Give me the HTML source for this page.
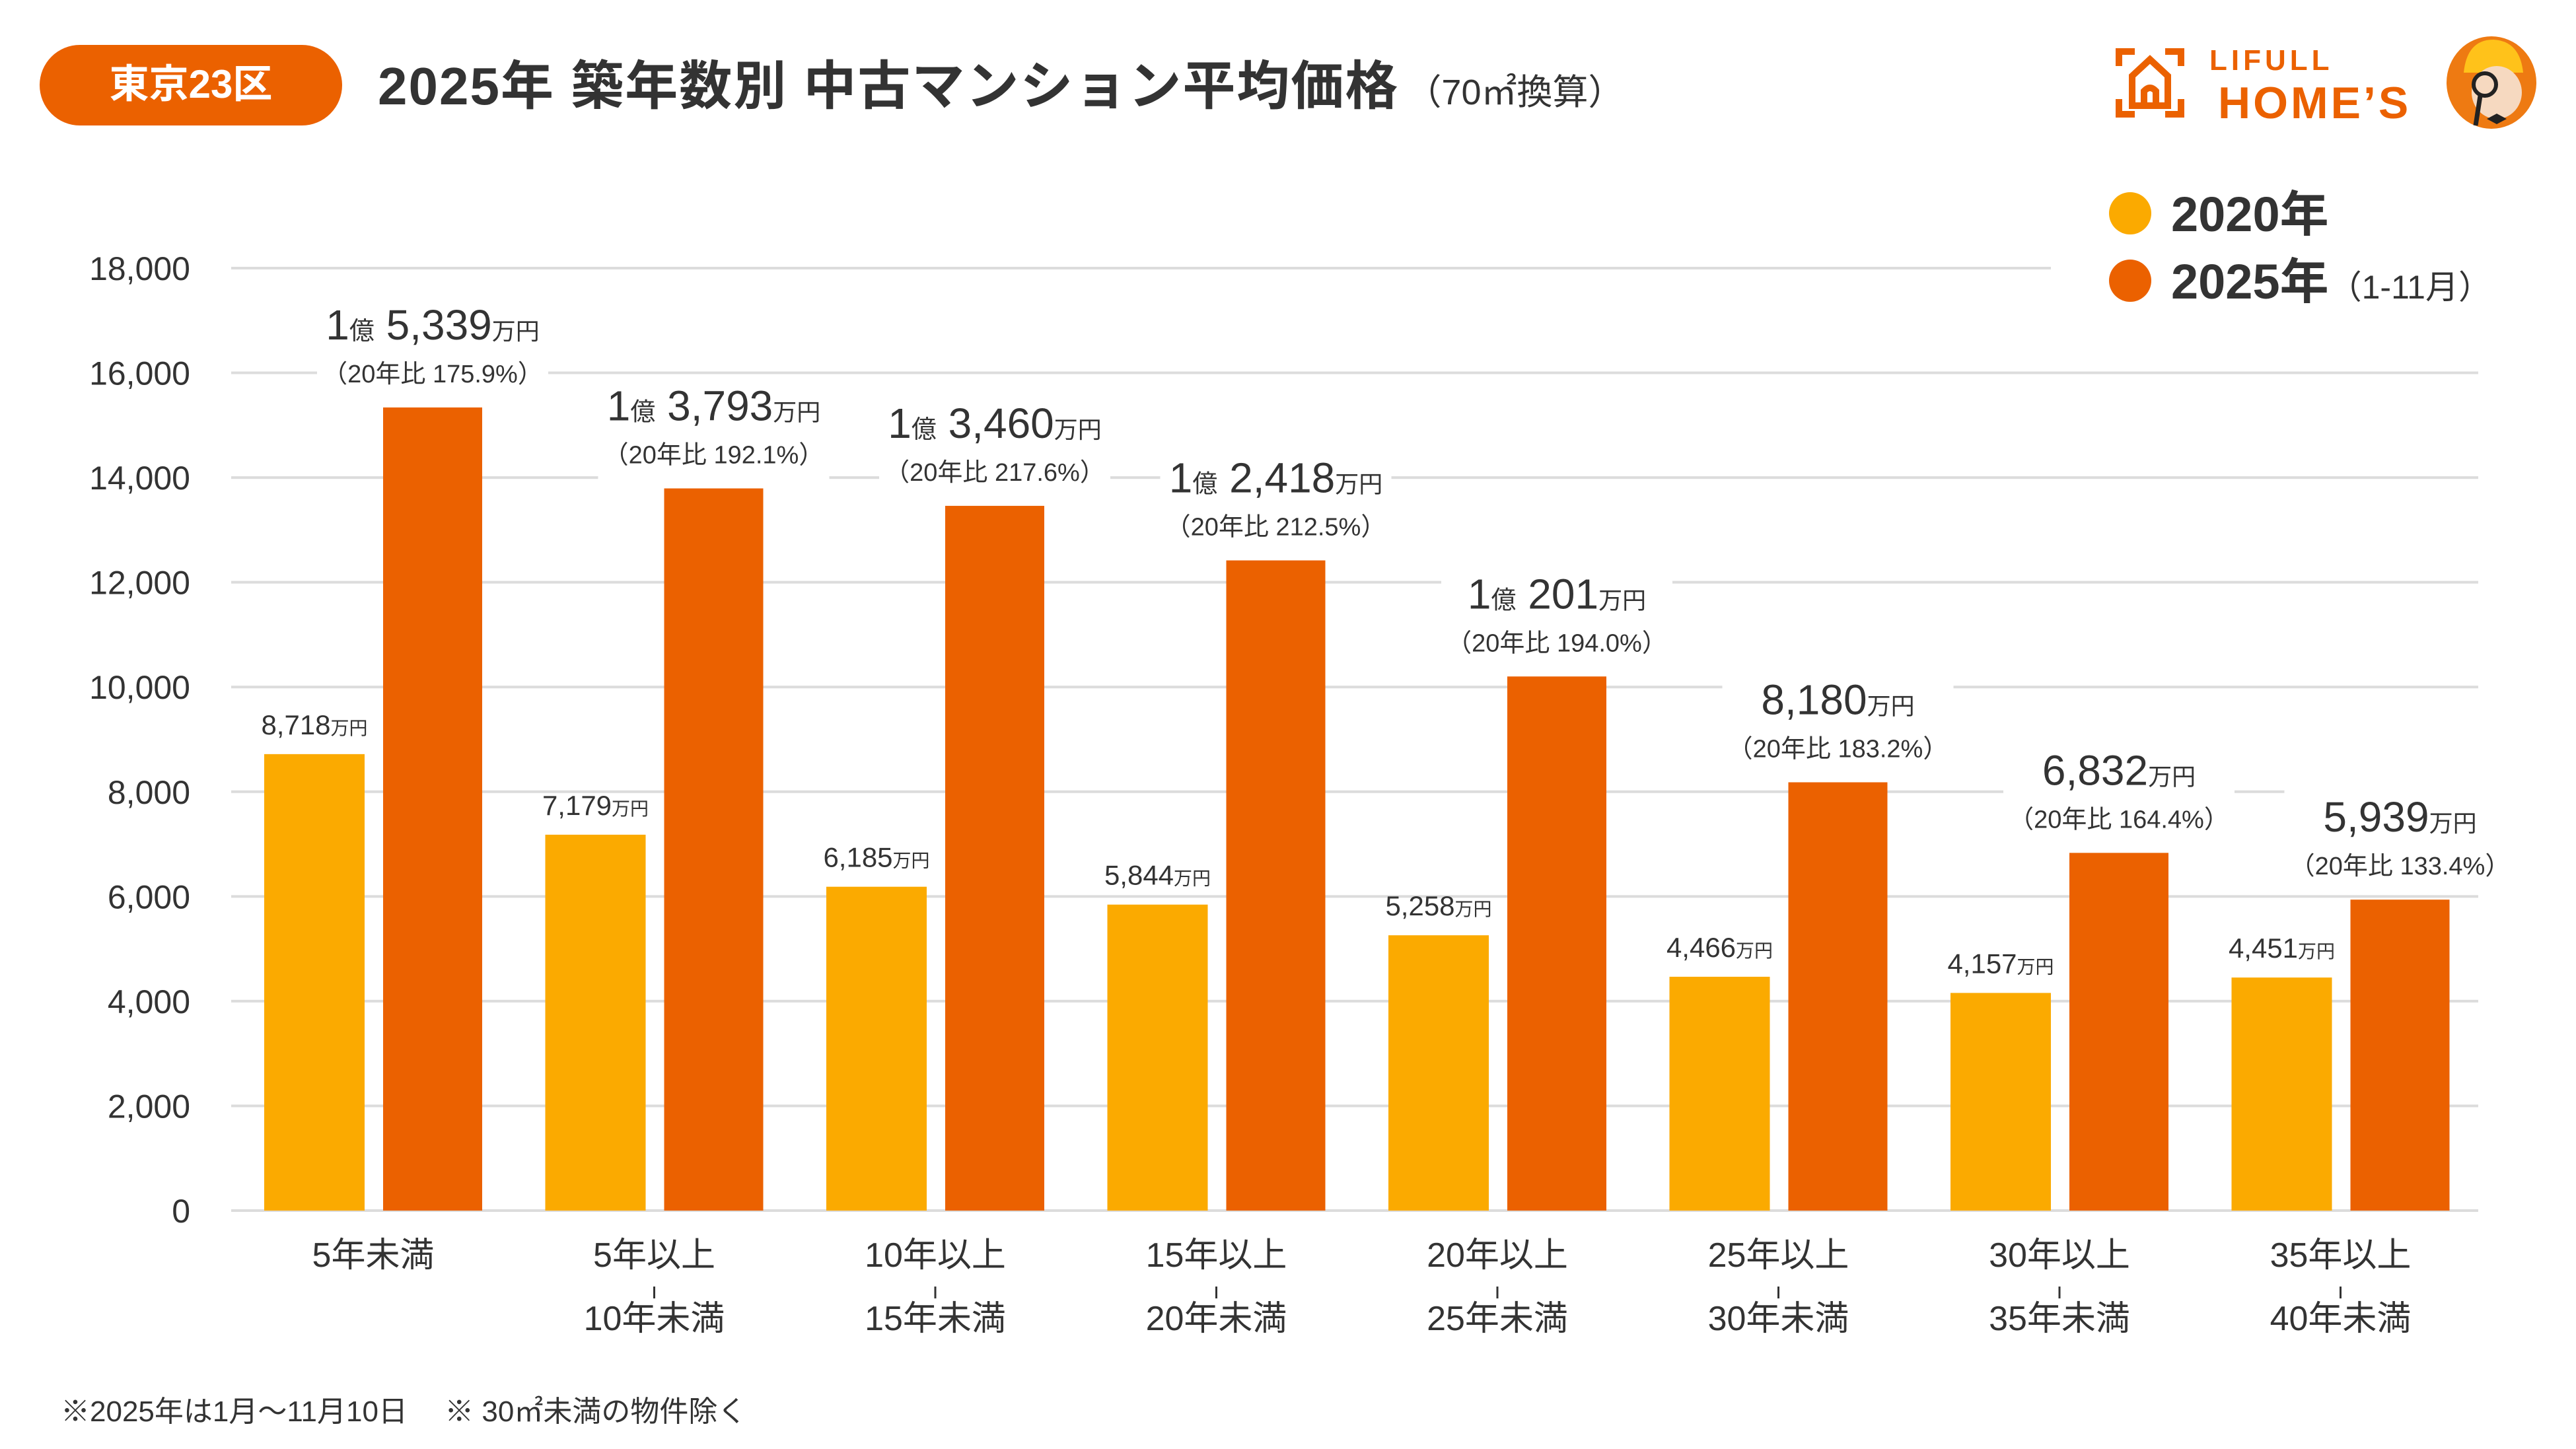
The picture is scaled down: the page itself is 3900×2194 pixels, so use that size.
<!DOCTYPE html>
<html><head><meta charset="utf-8"><style>
html,body{margin:0;padding:0;background:#fff;}
svg{display:block;}
text{font-family:"Liberation Sans","Noto Sans CJK JP",sans-serif;}
</style></head><body>
<svg id="chart" width="3900" height="2194" viewBox="0 0 3900 2194" xmlns="http://www.w3.org/2000/svg">
  <rect width="3900" height="2194" fill="#fff"/>
  <g>
    <rect x="60" y="68" width="458" height="122" rx="61" fill="#EB6100"/>
    <text x="289" y="148" font-size="60" font-weight="bold" fill="#fff" text-anchor="middle">東京23区</text>
  </g>
  <text x="572" y="158" font-size="80" font-weight="bold" fill="#333" letter-spacing="2">2025年 築年数別 中古マンション平均価格<tspan font-size="54" font-weight="normal" dx="10" letter-spacing="0">（70㎡換算）</tspan></text>

  <g>
    <g fill="none" stroke="#EB6100" stroke-width="10">
      <path d="M3208 100 V78 H3232 M3278 78 H3302 V100 M3208 150 V173 H3232 M3278 173 H3302 V150"/>
      <path d="M3228 160 V115 L3255 90 L3282 115 V160 Z"/>
      <path d="M3246 160 V138 Q3255 128 3264 138 V160"/>
    </g>
    <text x="3345" y="106" font-size="44" font-weight="bold" fill="#EB6100" letter-spacing="6">LIFULL</text>
    <text x="3358" y="179" font-size="68" font-weight="bold" fill="#EB6100" letter-spacing="4">HOME’S</text>
    <g>
      <ellipse cx="3772" cy="125" rx="68" ry="70" fill="#EE7A12"/>
      <path d="M3730 110 Q3735 60 3775 60 Q3815 62 3820 110 Z" fill="#FFC21A"/>
      <ellipse cx="3780" cy="140" rx="38" ry="40" fill="#F6D9C0"/>
      <circle cx="3762" cy="128" r="17" fill="none" stroke="#222" stroke-width="6"/>
      <path d="M3755 145 L3748 190" stroke="#222" stroke-width="7"/>
      <path d="M3765 180 L3780 172 L3795 180 L3780 188 Z" fill="#222"/>
    </g>
  </g>

  <g>
    <g>
      <circle cx="3225" cy="323" r="32" fill="#FBAA00"/>
      <text x="3287" y="350" font-size="74" font-weight="bold" fill="#333">2020年</text>
    </g>
    <g>
      <circle cx="3225" cy="425" r="32" fill="#EB6100"/>
      <text x="3287" y="452" font-size="74" font-weight="bold" fill="#333">2025年<tspan font-size="50" font-weight="normal">（1-11月）</tspan></text>
    </g>
  </g>

  <g id="grid"></g>
  <g id="yaxis"></g>
  <g id="bars"></g>
  <g id="labels"></g>
  <g id="xaxis"></g>

  <text x="92" y="2152" font-size="44" fill="#333">※2025年は1月〜11月10日　 ※ 30㎡未満の物件除く</text>
</svg>
<script>
const categoriesLine1 = ["5年未満","5年以上","10年以上","15年以上","20年以上","25年以上","30年以上","35年以上"];
const categoriesLine2 = ["","10年未満","15年未満","20年未満","25年未満","30年未満","35年未満","40年未満"];
const values2020 = [8718,7179,6185,5844,5258,4466,4157,4451];
const values2025 = [15339,13793,13460,12418,10201,8180,6832,5939];
const ratioLabels = ["175.9","192.1","217.6","212.5","194.0","183.2","164.4","133.4"];
const yTicks = [0,2000,4000,6000,8000,10000,12000,14000,16000,18000];

const NS = "http://www.w3.org/2000/svg";
const Y0 = 1833, YMAX = 18000, YTOP = 406;
function yScale(v){ return Y0 - (v / YMAX) * (Y0 - YTOP); }
function xGroup(i){ return 400 + i * 425.5; }
const BW = 152, BW2 = 150, GAP = 180;
function mk(tag, attrs, parent){ const e=document.createElementNS(NS,tag); for(const k in attrs) e.setAttribute(k,attrs[k]); parent.appendChild(e); return e; }
function fmt(n){ return n.toLocaleString("en-US"); }

const grid=document.getElementById("grid"), yaxis=document.getElementById("yaxis");
yTicks.forEach(t=>{
  const y=yScale(t);
  const ln=mk("line",{x1:350,x2:t===YMAX?3105:3752,y1:y,y2:y,stroke:"#DCDCDC","stroke-width":4},grid);
  
  
  const tx=mk("text",{x:288,y:y+18,"font-size":50,fill:"#333","text-anchor":"end"},yaxis);
  tx.textContent=fmt(t);
  
  
});

const bars=document.getElementById("bars"), labels=document.getElementById("labels"), xaxis=document.getElementById("xaxis");
values2020.forEach((v,i)=>{
  const x=xGroup(i);
  const r=mk("rect",{x:x,y:yScale(v),width:BW,height:Y0-yScale(v),fill:"#FBAA00"},bars);
  
  
  const t=mk("text",{x:x+BW/2,y:yScale(v)-30,"font-size":42,fill:"#333","text-anchor":"middle"},labels);
  t.innerHTML=fmt(v)+'<tspan font-size="28">万円</tspan>';
  
  
});
values2025.forEach((v,i)=>{
  const x=xGroup(i)+GAP, cx=x+BW2/2, top=yScale(v);
  const bg=mk("rect",{x:cx-175,y:top-170,width:350,height:160,fill:"#fff"},labels);
  
  
  const r=mk("rect",{x:x,y:top,width:BW2,height:Y0-top,fill:"#EB6100"},bars);
  
  
  const oku=Math.floor(v/10000), rest=v%10000;
  const main=mk("text",{x:cx,y:top-103,"font-size":64,fill:"#333","text-anchor":"middle"},labels);
  main.innerHTML=(oku>0?oku+'<tspan font-size="38">億</tspan> ':'')+fmt(rest)+'<tspan font-size="36">万円</tspan>';
  
  
  const rt=mk("text",{x:cx,y:top-38,"font-size":38,fill:"#333","text-anchor":"middle"},labels);
  rt.textContent="（20年比 "+ratioLabels[i]+"%）";
  
  
});
categoriesLine1.forEach((c,i)=>{
  const cx=xGroup(i)+(GAP+BW2)/2;
  const t=mk("text",{x:cx,y:1918,"font-size":52,fill:"#333","text-anchor":"middle"},xaxis);
  t.textContent=c;
  
  
  if(categoriesLine2[i]){
    const l=mk("line",{x1:cx,x2:cx,y1:1948,y2:1966,stroke:"#333","stroke-width":3},xaxis);
    
    
    const t2=mk("text",{x:cx,y:2014,"font-size":52,fill:"#333","text-anchor":"middle"},xaxis);
    t2.textContent=categoriesLine2[i];
    
    
  }
});
</script>
</body></html>
